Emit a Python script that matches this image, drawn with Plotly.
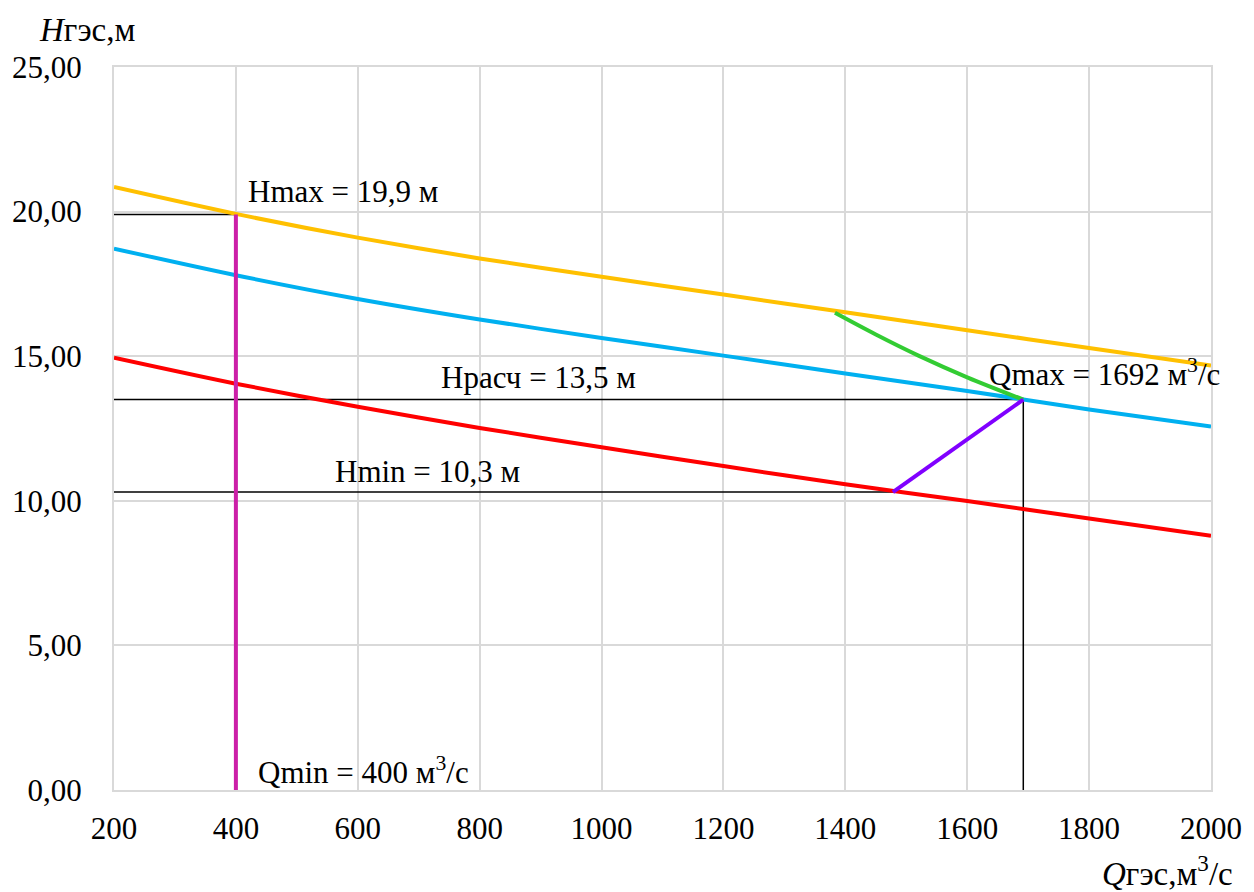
import plotly.graph_objects as go

# Discharge grid for the head curves, m3/s
q = [200, 400, 600, 800, 1000, 1200, 1400, 1600, 1800, 2000]

# Head curves, m
h_upper = [20.85, 19.92, 19.1, 18.38, 17.75, 17.13, 16.52, 15.9, 15.28, 14.68]
h_design = [18.72, 17.8, 16.98, 16.27, 15.63, 15.02, 14.4, 13.8, 13.16, 12.57]
h_lower = [14.95, 14.05, 13.25, 12.52, 11.85, 11.2, 10.57, 9.99, 9.39, 8.79]

# Turbine limit lines
green_q = [1383, 1450, 1520, 1600, 1692]
green_h = [16.5, 15.75, 15.02, 14.27, 13.5]
purple_q = [1478, 1692]
purple_h = [10.3, 13.5]

# Key operating values
q_min = 400
q_max = 1692
h_max = 19.9
h_calc = 13.5
h_min = 10.3
q_h_min = 1478

y_ticks = [0, 5, 10, 15, 20, 25]
y_tick_text = ["0,00", "5,00", "10,00", "15,00", "20,00", "25,00"]
x_ticks = [200, 400, 600, 800, 1000, 1200, 1400, 1600, 1800, 2000]
x_tick_text = [str(v) for v in x_ticks]

FONT = "Liberation Serif"
FS = 31
FS_TITLE = 33

fig = go.Figure()

# Thin black reference lines
black = dict(color="black", width=1.5)
fig.add_trace(go.Scatter(x=[200, q_min], y=[h_max, h_max], mode="lines", line=black))
fig.add_trace(go.Scatter(x=[200, q_max], y=[h_calc, h_calc], mode="lines", line=black))
fig.add_trace(go.Scatter(x=[200, q_h_min], y=[h_min, h_min], mode="lines", line=black))
fig.add_trace(go.Scatter(x=[q_max, q_max], y=[0, h_calc], mode="lines", line=black))

# Head curves
fig.add_trace(go.Scatter(x=q, y=h_upper, mode="lines", line=dict(color="#ffc000", width=4, shape="spline", smoothing=0.8)))
fig.add_trace(go.Scatter(x=q, y=h_design, mode="lines", line=dict(color="#00b0f0", width=4, shape="spline", smoothing=0.8)))
fig.add_trace(go.Scatter(x=q, y=h_lower, mode="lines", line=dict(color="#ff0000", width=4, shape="spline", smoothing=0.8)))

# Limit lines
fig.add_trace(go.Scatter(x=green_q, y=green_h, mode="lines", line=dict(color="#33cc33", width=4, shape="spline")))
fig.add_trace(go.Scatter(x=purple_q, y=purple_h, mode="lines", line=dict(color="#8000ff", width=4)))
fig.add_trace(go.Scatter(x=[q_min, q_min], y=[0, h_max], mode="lines", line=dict(color="#cc1fa8", width=4)))

def label(text, x, y, anchor="left"):
    fig.add_annotation(x=x, y=y, xref="x", yref="y", text=text, showarrow=False,
                       xanchor=anchor, yanchor="middle",
                       font=dict(family=FONT, size=FS, color="black"))

label("Hmax = 19,9 м", 416, 20.68)
label("Hрасч = 13,5 м", 896, 14.25, "center")
label("Qmax = 1692 м<sup>3</sup>/с", 1632, 14.45)
label("Hmin = 10,3 м", 560, 11.0)
label("Qmin = 400 м<sup>3</sup>/с", 433, 0.69)

# Axis titles
fig.add_annotation(x=-0.0245, y=1.051, xref="paper", yref="paper", text="<i>H</i>гэс,м",
                   showarrow=False, xanchor="center", yanchor="middle",
                   font=dict(family=FONT, size=FS_TITLE, color="black"))
fig.add_annotation(x=1.022, y=-0.112, xref="paper", yref="paper", text="<i>Q</i>гэс,м<sup>3</sup>/с",
                   showarrow=False, xanchor="right", yanchor="middle",
                   font=dict(family=FONT, size=FS_TITLE, color="black"))

grid = "#d9d9d9"
fig.update_layout(
    width=1254, height=892,
    margin=dict(l=112, r=36, t=67, b=102),
    paper_bgcolor="white", plot_bgcolor="white",
    showlegend=False,
    font=dict(family=FONT, size=FS, color="black"),
    xaxis=dict(range=[200, 2000], tickvals=x_ticks, ticktext=x_tick_text,
               showgrid=True, gridcolor=grid, gridwidth=2, zeroline=False,
               showline=True, linecolor=grid, linewidth=2, mirror=True,
               ticks="outside", ticklen=10, tickcolor="rgba(0,0,0,0)",
               tickfont=dict(family=FONT, size=FS, color="black")),
    yaxis=dict(range=[0, 25], tickvals=y_ticks, ticktext=y_tick_text,
               showgrid=True, gridcolor=grid, gridwidth=2, zeroline=False,
               showline=True, linecolor=grid, linewidth=2, mirror=True,
               ticks="outside", ticklen=24, tickcolor="rgba(0,0,0,0)",
               tickfont=dict(family=FONT, size=FS, color="black")),
)

fig.write_html("out.html")
